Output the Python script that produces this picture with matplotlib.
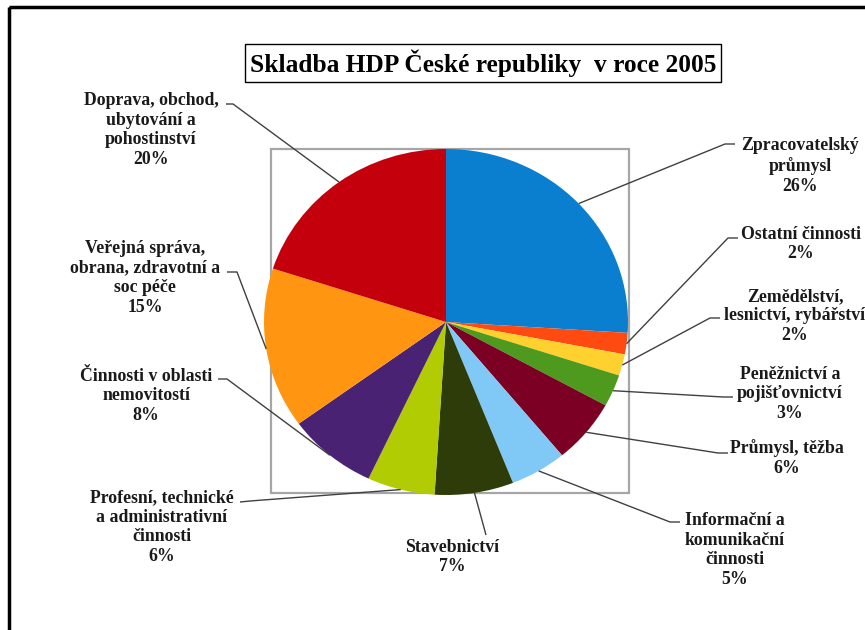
import numpy as np
import matplotlib
matplotlib.use('Agg')
import matplotlib.pyplot as plt
from matplotlib.patches import Rectangle


# GDP structure of the Czech Republic, 2005 (share in %), clockwise from 12 o'clock
sectors = [
    'Zpracovatelský\nprůmysl',
    'Ostatní činnosti',
    'Zemědělství,\nlesnictví, rybářství',
    'Peněžnictví a\npojišťovnictví',
    'Průmysl, těžba',
    'Informační a\nkomunikační\nčinnosti',
    'Stavebnictví',
    'Profesní, technické\na administrativní\nčinnosti',
    'Činnosti v oblasti\nnemovitostí',
    'Veřejná správa,\nobrana, zdravotní a\nsoc péče',
    'Doprava, obchod,\nubytování a\npohostinství',
]
shares = [26, 2, 2, 3, 6, 5, 7, 6, 8, 15, 20]
colors = ['#0A7ECF', '#FF4B12', '#FFD12E', '#4E9A1F', '#7C0023', '#80C9F7',
          '#2E3C09', '#B1CC02', '#4A2273', '#FF9510', '#C4000C']

TITLE = 'Skladba HDP České republiky  v roce 2005'

# label layout in pixels: text centre, elbow point of the leader, text side
label_pos = [
    (800, 166), (801, 244), (795, 316), (790, 394), (787, 458),
    (735, 550), (452, 557), (162, 527), (146, 396), (145, 278), (151, 130),
]
elbows = [
    (725, 144), (728, 238), (710, 318), (723, 397), (718, 453),
    (670, 522), (486, 535), (250, 501), (227, 379), (237, 272), (233, 104),
]
hooks = [
    (735, 144), (738, 238), (720, 318), (733, 397), (728, 453),
    (680, 522), (486, 535), (240, 502), (218, 379), (227, 272), (226, 104),
]

W, H = 865, 630
PIE_CX, PIE_CY, PIE_RX, PIE_RY = 446, 322, 182, 173

FONT = 'Liberation Serif'


def main():
    fig = plt.figure(figsize=(W / 100, H / 100), dpi=100)
    fig.patch.set_facecolor('white')

    # background: outer frame and plot area box
    bg = fig.add_axes([0, 0, 1, 1], zorder=0)
    bg.set_xlim(0, W)
    bg.set_ylim(H, 0)
    bg.axis('off')
    bg.add_patch(Rectangle((9, 7), W + 20, H + 20, fill=False,
                           edgecolor='black', linewidth=2.5))
    bg.add_patch(Rectangle((271, 149), 358, 344, fill=False,
                           edgecolor='#A6A6A6', linewidth=1.6))

    # pie drawn in its own axes so it can be stretched slightly
    pax = fig.add_axes([(PIE_CX - PIE_RX) / W, (H - PIE_CY - PIE_RY) / H,
                        2 * PIE_RX / W, 2 * PIE_RY / H], zorder=1)
    wedges, _ = pax.pie(shares, colors=colors, startangle=90,
                        counterclock=False, wedgeprops=dict(linewidth=0))
    pax.set_aspect('auto')
    pax.set_xlim(-1, 1)
    pax.set_ylim(-1, 1)
    pax.axis('off')

    fg = fig.add_axes([0, 0, 1, 1], zorder=2)
    fg.set_xlim(0, W)
    fg.set_ylim(H, 0)
    fg.axis('off')
    fg.patch.set_alpha(0)

    fg.text(483, 63, TITLE, ha='center', va='center', fontsize=18.3,
            family=FONT, fontweight='bold',
            bbox=dict(boxstyle='square,pad=0.2', facecolor='white',
                      edgecolor='black', linewidth=1.0))

    for w, name, val, (tx, ty), elbow, hook in zip(
            wedges, sectors, shares, label_pos, elbows, hooks):
        mid = np.deg2rad((w.theta1 + w.theta2) / 2)
        px = PIE_CX + PIE_RX * np.cos(mid)
        py = PIE_CY - PIE_RY * np.sin(mid)
        fg.plot([px, elbow[0], hook[0]], [py, elbow[1], hook[1]],
                color='#404040', linewidth=1.0, solid_capstyle='butt')
        fg.text(tx, ty, f'{name}\n{val}%', ha='center', va='center',
                fontsize=12.8, family=FONT, fontweight='bold',
                color='#1A1A1A', linespacing=1.2)

    fig.savefig('out.png', dpi=100)


if __name__ == '__main__':
    main()
